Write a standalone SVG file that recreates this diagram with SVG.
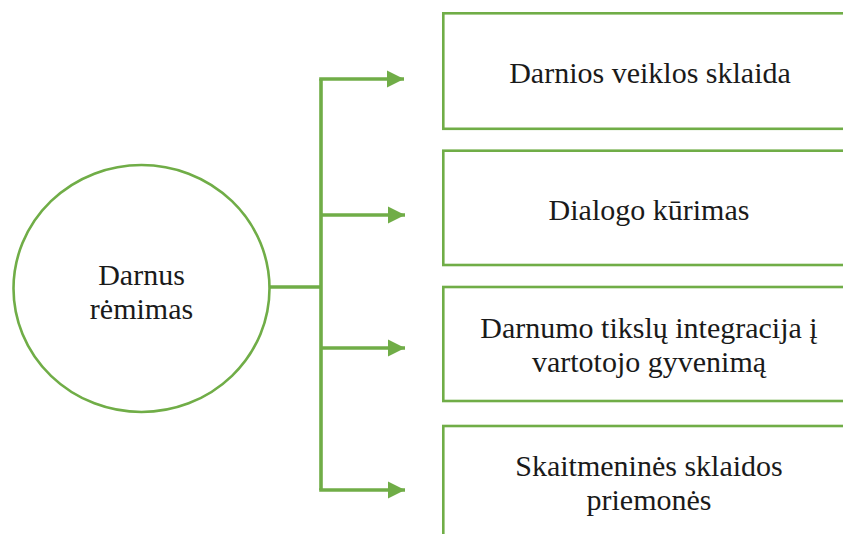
<svg xmlns="http://www.w3.org/2000/svg" width="843" height="534" viewBox="0 0 843 534">
  <defs>
    <marker id="arrow" markerUnits="userSpaceOnUse" markerWidth="18" markerHeight="18" viewBox="0 0 18 18" refX="17" refY="9" orient="auto">
      <path d="M0,0.5 L17,9 L0,17.5 Z" fill="#70ad47"/>
    </marker>
  </defs>
  <style>
    .shape { fill: #ffffff; stroke: #70ad47; stroke-width: 2.6; }
    .link { fill: none; stroke: #70ad47; stroke-width: 3.6; stroke-linejoin: miter; }
    .label { font-family: 'Liberation Serif', 'Times New Roman', serif; font-size: 30px; fill: #1a1a1a; text-anchor: middle; }
  </style>

  <rect width="843" height="534" fill="#ffffff"/>

  <!-- connectors: circle to trunk, trunk, and four branches -->
  <g id="connectors">
    <path class="link" d="M270,287 H321"/>
    <path class="link" d="M321,79 V490"/>
    <path class="link" d="M319.2,79 H404" marker-end="url(#arrow)"/>
    <path class="link" d="M321,215 H405" marker-end="url(#arrow)"/>
    <path class="link" d="M321,348 H405" marker-end="url(#arrow)"/>
    <path class="link" d="M319.2,490 H405" marker-end="url(#arrow)"/>
  </g>

  <g id="node-center">
    <ellipse class="shape" cx="141.5" cy="288.5" rx="128" ry="123.5"/>
    <text class="label" x="141.5" y="285">Darnus</text>
    <text class="label" x="141.5" y="319">rėmimas</text>
  </g>

  <g id="node-sklaida">
    <rect class="shape" x="443.3" y="13.3" width="414" height="115.5"/>
    <text class="label" x="650" y="83">Darnios veiklos sklaida</text>
  </g>

  <g id="node-dialogas">
    <rect class="shape" x="443.3" y="150.7" width="414" height="114.3"/>
    <text class="label" x="649" y="220">Dialogo kūrimas</text>
  </g>

  <g id="node-integracija">
    <rect class="shape" x="443.3" y="287" width="414" height="114"/>
    <text class="label" x="649" y="338">Darnumo tikslų integracija į</text>
    <text class="label" x="649" y="372">vartotojo gyvenimą</text>
  </g>

  <g id="node-priemones">
    <rect class="shape" x="443.3" y="426" width="414" height="130"/>
    <text class="label" x="649" y="476">Skaitmeninės sklaidos</text>
    <text class="label" x="649" y="510">priemonės</text>
  </g>
</svg>
